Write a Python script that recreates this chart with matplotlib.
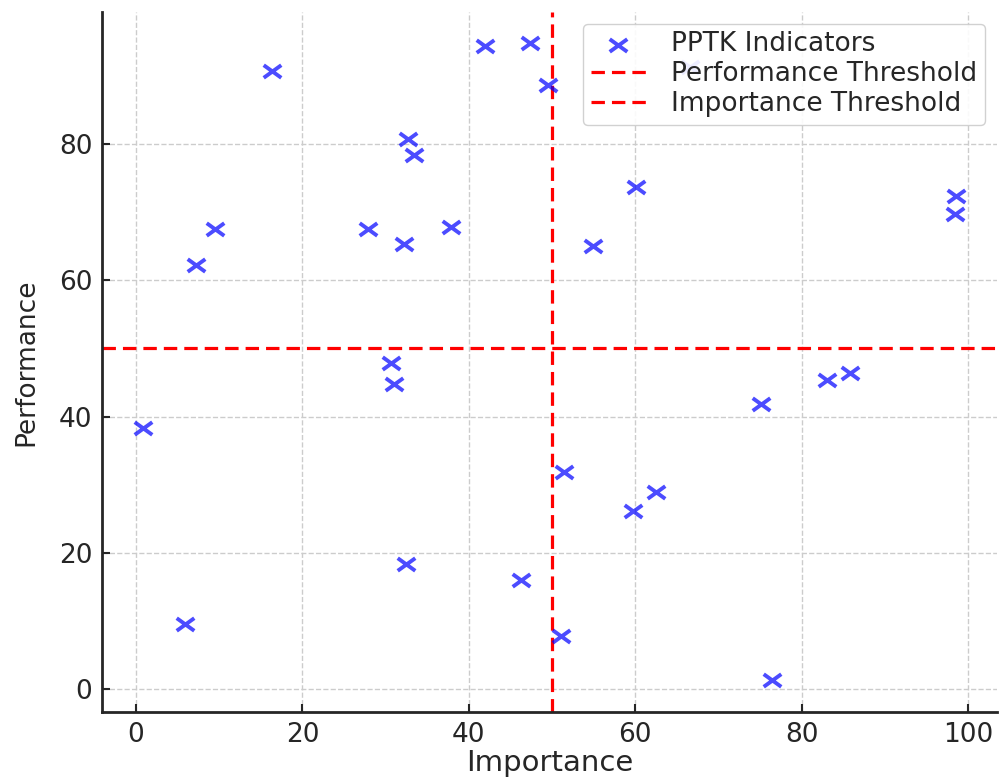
import matplotlib
matplotlib.use("Agg")
import matplotlib.pyplot as plt
from matplotlib.path import Path

plt.rcParams.update({'font.family': 'DejaVu Sans',
                     'text.color': '#262626',
                     'axes.labelcolor': '#262626',
                     'xtick.color': '#262626',
                     'ytick.color': '#262626'})

# PPTK indicators: importance vs performance
importance = [0.8, 5.9, 7.2, 9.5, 16.4, 27.9, 30.7, 31.0, 32.2, 32.4,
              32.7, 33.4, 37.9, 42.0, 46.3, 47.4, 49.5, 51.1, 51.4, 54.9,
              59.7, 60.1, 62.5, 66.6, 75.1, 76.4, 83.0, 85.8, 98.6, 98.5]
performance = [38.3, 9.6, 62.3, 67.5, 90.8, 67.6, 47.9, 44.8, 65.4, 18.4,
               80.7, 78.4, 67.9, 94.4, 16.0, 94.8, 88.7, 7.8, 31.9, 65.0,
               26.1, 73.7, 28.9, 91.4, 41.9, 1.3, 45.4, 46.4, 72.4, 69.7]
perf_threshold = 50
imp_threshold = 50

# a slightly flattened "x" marker
flat_x = Path([(-1, -0.72), (1, 0.72), (-1, 0.72), (1, -0.72)],
              [Path.MOVETO, Path.LINETO, Path.MOVETO, Path.LINETO])

fig, ax = plt.subplots(figsize=(10, 7.78), dpi=100)

ax.scatter(importance, performance, marker=flat_x, s=160, linewidths=2.8,
           color='blue', alpha=0.7, label='PPTK Indicators', zorder=3)
ax.axhline(perf_threshold, color='red', linestyle='--', linewidth=2.3,
           dashes=(4.2, 2.2), label='Performance Threshold', zorder=2)
ax.axvline(imp_threshold, color='red', linestyle='--', linewidth=2.3,
           dashes=(4.2, 2.2), label='Importance Threshold', zorder=2)

ax.set_xlabel('Importance', fontsize=21, labelpad=1)
ax.set_ylabel('Performance', fontsize=19, labelpad=14)
ax.set_xticks([0, 20, 40, 60, 80, 100])
ax.set_yticks([0, 20, 40, 60, 80])
ax.tick_params(direction='in', length=6, width=1.5, labelsize=19, pad=7)

ax.grid(True, linestyle='--', color='#cccccc', linewidth=1)
ax.set_axisbelow(True)
for side in ['top', 'right']:
    ax.spines[side].set_visible(False)
for side in ['left', 'bottom']:
    ax.spines[side].set_linewidth(2)
    ax.spines[side].set_color('#262626')

leg = ax.legend(loc='upper right', fontsize=19, framealpha=0.9,
                edgecolor='#cccccc', borderaxespad=0.45, borderpad=0.3,
                labelspacing=0.15, handlelength=2.1, handletextpad=0.95)

fig.subplots_adjust(left=0.102, right=0.997, top=0.985, bottom=0.085)
plt.savefig("out.png", dpi=100)
